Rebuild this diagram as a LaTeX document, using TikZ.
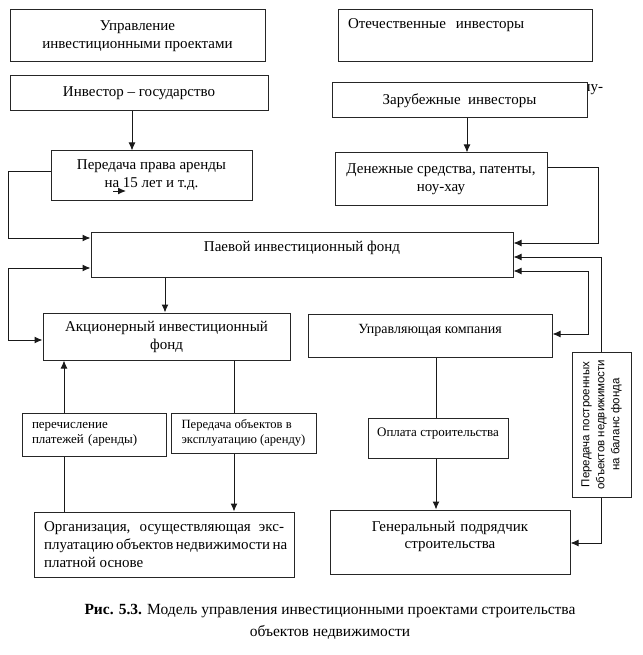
\documentclass[tikz,border=0pt]{standalone}
\usepackage{fontspec}
\setmainfont{Liberation Serif}
\newfontfamily\arialfont{Liberation Sans}
\usetikzlibrary{positioning,arrows.meta}

\begin{document}
\begin{tikzpicture}[x=1pt, y=-1pt,
  box/.style={draw=black!85, line width=1pt, fill=white, inner sep=0pt, align=center, font=\fontsize{15}{18}\selectfont},
  small/.style={font=\fontsize{13}{15}\selectfont},
  tip/.style={-{Latex[length=8pt,width=7pt]}},
  arr/.style={draw=black!90, line width=1pt, tip},
  both/.style={draw=black!90, line width=1pt, {Latex[length=8pt,width=7pt]}-{Latex[length=8pt,width=7pt]}},
  link/.style={draw=black!90, line width=1pt}]
\useasboundingbox (0,0) rectangle (642,655);

% Left column: state investor
\node[box, minimum width=255pt, minimum height=52pt] (upr) at (137.5,36) {Управление\\инвестиционными проектами};
\node[box, minimum width=258pt, minimum height=35pt] (gos) at (139,93.5) {Инвестор -- государство};
\node[box, minimum width=201pt, minimum height=49pt] (arenda) at (151.5,175.5) {Передача права аренды\\на 15 лет и т.д.};

% Right column: investors
\node[box, minimum width=254pt, inner xsep=10pt, text width=234pt, align=left, text height=19pt, text depth=33pt] (otech) at (465,36) {Отечественные\ \ инвесторы};
\node[box, draw=none, fill=none, anchor=west] (puhyph) at (582,90) {пу-};
\node[box, minimum width=255pt, minimum height=35pt] (zarub) at (459.5,100.5) {Зарубежные\ \ инвесторы};
\node[box, minimum width=212pt, minimum height=52pt] (dengi) at (441,179) {Денежные средства, патенты,\\ноу-хау};

% Funds
\node[box, minimum width=422pt, text height=19pt, text depth=26pt] (pif) at (302,254.5) {Паевой инвестиционный фонд};
\node[box, minimum width=247pt, minimum height=47pt] (aif) at (166.5,336.5) {Акционерный инвестиционный\\фонд};
\node[box, minimum width=244pt, font=\fontsize{14}{16}\selectfont, text height=19.5pt, text depth=23.5pt] (uk) at (430,335.5) {Управляющая компания};

% Flows
\node[box, small, minimum width=144pt, minimum height=43pt, inner xsep=10pt, text width=124pt, align=left] (plat) at (94,434.5) {перечисление\\платежей (аренды)};
\node[box, small, font=\fontsize{12.6}{15}\selectfont, minimum width=145pt, minimum height=40pt, align=left] (peredobj) at (243.5,433) {Передача объектов в\\эксплуатацию (аренду)};
\node[box, small, minimum width=140pt, text height=18pt, text depth=22pt] (oplata) at (438,438) {Оплата строительства};
\node[box, rotate=90, minimum width=145pt, minimum height=59pt, font=\arialfont\fontsize{11.5}{15}\selectfont] (balans) at (601.5,424.5) {Передача построенных\\объектов недвижимости\\на баланс фонда};

% Bottom row
\node[box, minimum width=260pt, minimum height=65pt, align=left] (org) at (164,544.5) {\makebox[240pt][s]{Организация, осуществляющая экс-}\\\makebox[240pt][s]{плуатацию объектов недвижимости на}\\платной основе\hspace{136pt}};
\node[box, minimum width=240pt, text width=220pt, font=\fontsize{15}{17}\selectfont, text height=21pt, text depth=43pt] (genpod) at (450,542) {Генеральный подрядчик\\строительства};

% Connectors
\draw[arr] ([xshift=-7pt]gos.south) -- ([xshift=-7pt]gos.south |- arenda.north);
\draw[arr] ([xshift=-38.5pt,yshift=-15.5pt]arenda.center) -- ++(13,0);
\draw[arr] ([xshift=7.5pt]zarub.south) -- ([xshift=7.5pt]zarub.south |- dengi.north);
\draw[arr] ([yshift=3.5pt]arenda.west) -- ++(-42,0) |- ([yshift=16.5pt]pif.west);
\draw[both] ([yshift=-13.5pt]pif.west) -- ++(-82,0) |- ([yshift=-3.5pt]aif.west);
\draw[arr] ([xshift=-137pt]pif.south) -- ([xshift=-137pt]pif.south |- aif.north);
\draw[arr] ([yshift=11pt]dengi.east) -- ++(51,0) |- ([yshift=11.5pt]pif.east);
\draw[arr] (balans.east) |- ([yshift=-2.5pt]pif.east);
\draw[both] ([yshift=-16.5pt]pif.east) -- ++(75,0) |- ([yshift=1.5pt]uk.east);
\draw[arr] (balans.west) |- ([yshift=-1pt]genpod.east);
\draw[link] ([xshift=6pt]uk.south) -- ([xshift=6pt]uk.south |- oplata.north);
\draw[arr] ([xshift=-2pt]oplata.south) -- ([xshift=-2pt]oplata.south |- genpod.north);
\draw[link] ([xshift=67.5pt]aif.south) -- ([xshift=67.5pt]aif.south |- peredobj.north);
\draw[arr] ([xshift=-9.5pt]peredobj.south) -- ([xshift=-9.5pt]peredobj.south |- org.north);
\draw[link] ([xshift=-100pt]org.north) -- ([xshift=-100pt]org.north |- plat.south);
\draw[arr] ([xshift=-30pt]plat.north) -- ([xshift=-30pt]plat.north |- aif.south);

% Caption
\node[font=\fontsize{15.5}{22}\selectfont, align=center] (caption) at (330,622) {\textbf{Рис. 5.3.} Модель управления инвестиционными проектами строительства\\объектов недвижимости};
\end{tikzpicture}
\end{document}
